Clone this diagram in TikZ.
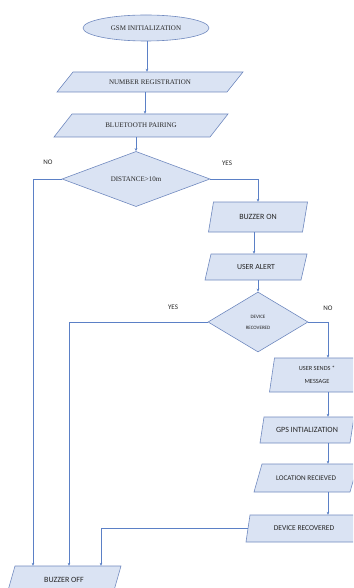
\documentclass[tikz,border=0pt]{standalone}
\usepackage{fontspec}
\newfontfamily\serifF{Liberation Serif}
\newfontfamily\sansF{Carlito}
\usetikzlibrary{shapes.geometric,arrows.meta,calc}
\definecolor{boxfill}{HTML}{DAE3F3}
\definecolor{boxline}{HTML}{7089BF}
\definecolor{linec}{HTML}{5B80C6}
% name, cx, cy, width, height, slant, font, text
\newcommand\parashape[8]{%
  \path[box] ({#2-#4/2+#6/2},{#3-#5/2}) -- ({#2+#4/2+#6/2},{#3-#5/2}) -- ({#2+#4/2-#6/2},{#3+#5/2}) -- ({#2-#4/2-#6/2},{#3+#5/2}) -- cycle;
  \node[txt, font=#7, minimum width=#4pt, minimum height=#5pt] (#1) at (#2,#3) {#8};
}
\newcommand\sermid{\serifF\fontsize{7}{8}\selectfont}
\newcommand\sansmid[1]{\sansF\fontsize{#1}{9}\selectfont}
\begin{document}
\begin{tikzpicture}[x=1pt,y=-1pt,
  box/.style={draw=boxline, fill=boxfill, line width=0.6pt},
  txt/.style={inner sep=0pt, align=center, text=black!85},
  arr/.style={draw=linec, line width=0.6pt, -{Stealth[length=3pt,width=2.6pt]}},
  lbl/.style={font=\sansF\fontsize{7}{8}\selectfont, inner sep=0pt, text=black!85}]
\useasboundingbox (0,0) rectangle (353,588);
\clip (0,0) rectangle (353,588);

% column coordinates
\coordinate (x147) at (147,0);
\coordinate (x145) at (145,0);
\coordinate (xNo) at (33,0);
\coordinate (x254) at (254,0);
\coordinate (xY2) at (69,0);
\coordinate (xR) at (328,0);
\coordinate (xD) at (101,0);

% nodes
\node[box, ellipse, txt, font=\sermid, minimum width=126pt, minimum height=26pt] (gsm) at (146,28) {GSM INITIALIZATION};
\parashape{reg}{150}{82}{170}{20}{16}{\sermid}{NUMBER REGISTRATION}
\parashape{bt}{141}{125.5}{156}{23}{18}{\sermid}{BLUETOOTH PAIRING}
\node[box, diamond, txt, font=\sermid, minimum width=148pt, minimum height=53pt] (d1) at (136,179) {DISTANCE>10m};
\parashape{buzz}{258}{217}{94}{30}{5}{\sansmid{8}}{BUZZER ON}
\parashape{ualert}{256}{267}{96}{26}{6}{\sansmid{7.8}}{USER ALERT}
\node[box, diamond, txt, minimum width=100pt, minimum height=60pt, font=\sansF\fontsize{5}{11}\selectfont] (d2) at (258,322) {DEVICE\\RECOVERED};
\parashape{usend}{317}{375}{90}{34}{5}{\sansF\fontsize{6.3}{13}\selectfont}{USER SENDS *\\MESSAGE}
\parashape{gps}{307}{430}{90}{26}{4}{\sansmid{8}}{GPS INTIALIZATION}
\parashape{loc}{306}{478}{96}{28}{8}{\sansmid{7.2}}{LOCATION RECIEVED}
\parashape{drec}{304}{528.5}{112}{27}{4}{\sansmid{7.5}}{DEVICE RECOVERED}
\parashape{boff}{64}{580}{106}{28}{8}{\sansmid{8}}{BUZZER OFF}

% labels
\node[lbl] (no1) at (48,162) {NO};
\node[lbl] (yes1) at (227,163) {YES};
\node[lbl] (yes2) at (173,307) {YES};
\node[lbl] (no2) at (328,308) {NO};

% connectors
\draw[arr] (gsm.south -| x147) -- (x147 |- reg.north);
\draw[arr] (reg.south -| x145) -- (x145 |- bt.north);
\draw[arr] (bt.south -| d1.north) -- (d1.north);
\draw[arr] (d1.west) -| (xNo |- boff.north);
\draw[arr] (d1.east) -| (buzz.north);
\draw[arr] (buzz.south -| x254) -- (x254 |- ualert.north);
\draw[arr] (ualert.south -| d2.north) -- (d2.north);
\draw[arr] (d2.west) -| (xY2 |- boff.north);
\draw[arr] (d2.east) -| (xR |- usend.north);
\draw[arr] (usend.south -| xR) -- (xR |- gps.north);
\draw[arr] (gps.south -| xR) -- (xR |- loc.north);
\draw[arr] (loc.south -| xR) -- (xR |- drec.north);
\draw[arr] (drec.west) -| (xD |- boff.north);
\end{tikzpicture}
\end{document}
